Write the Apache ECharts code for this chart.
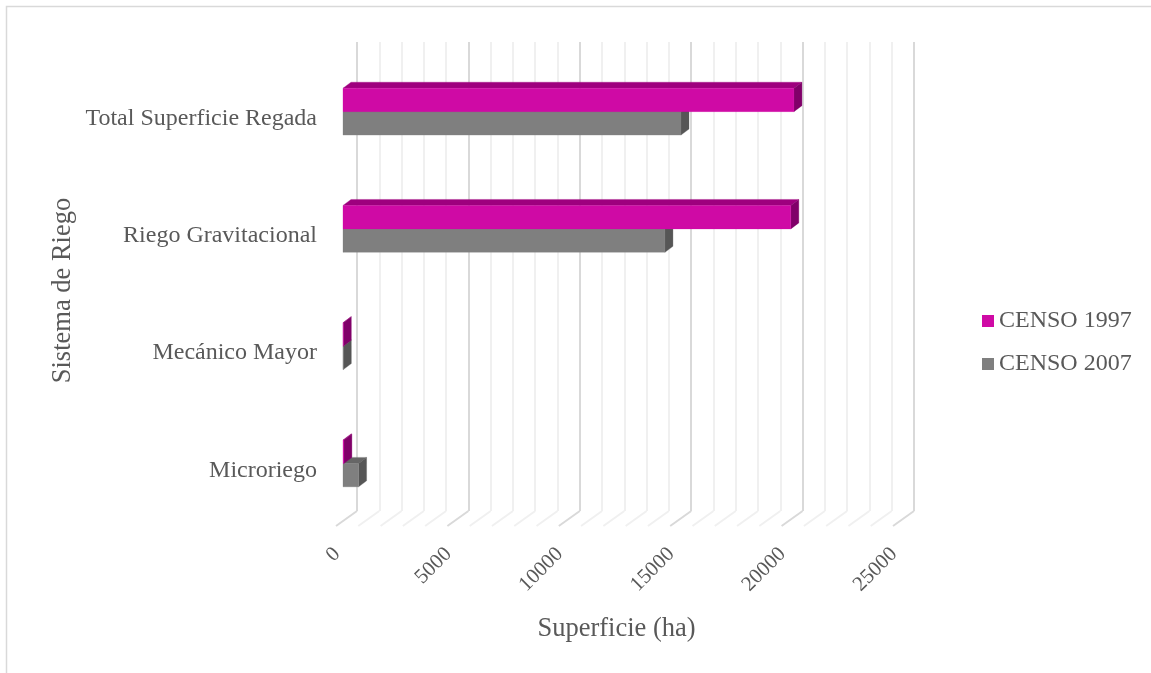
<!DOCTYPE html>
<html>
<head>
<meta charset="utf-8">
<script src="https://cdn.jsdelivr.net/npm/echarts@6/dist/echarts.min.js"></script>
<style>html,body{margin:0;padding:0;background:#fff}#c{width:1151px;height:673px}</style>
</head>
<body>
<div id="c"></div>
<script>
const categories = ['Microriego', 'Mecánico Mayor', 'Riego Gravitacional', 'Total Superficie Regada'];
const censo1997 = [40, 15, 20100, 20240];
const censo2007 = [700, 15, 14450, 15170];
const floorTicks = [0,1000,2000,3000,4000,5000,6000,7000,8000,9000,10000,11000,12000,13000,14000,15000,16000,17000,18000,19000,20000,21000,22000,23000,24000,25000];
const FONT = '"Liberation Serif","Times New Roman",serif';
const TXT = '#595959';
const DX = 8, DY = 6, FX = 21, FY = 15;

function prism(colors, sign) {
  return function (params, api) {
    const idx = api.value(0), val = api.value(1);
    const s = api.coord([0, idx]);
    const e = api.coord([val, idx]);
    const band = api.size([0, 1])[1];
    const h = band * 0.2;
    const y0 = sign < 0 ? s[1] - h : s[1];
    const y1 = y0 + h;
    const x0 = s[0], x1 = e[0];
    const poly = (pts, fill) => ({type: 'polygon', shape: {points: pts}, style: {fill: fill, stroke: fill, lineWidth: 0.3}});
    return {type: 'group', children: [
      poly([[x0,y0],[x0+DX,y0-DY],[x1+DX,y0-DY],[x1,y0]], colors[1]),
      poly([[x1,y0],[x1+DX,y0-DY],[x1+DX,y1-DY],[x1,y1]], colors[2]),
      poly([[x0,y0],[x1,y0],[x1,y1],[x0,y1]], colors[0])
    ]};
  };
}
function floorLine(params, api) {
  const v = api.value(0);
  const p = api.coord([v, 0]);
  const band = api.size([0, 1])[1];
  const y = p[1] + band / 2;
  const major = v % 5000 === 0;
  return {type: 'line', shape: {x1: p[0], y1: y, x2: p[0] - FX, y2: y + FY},
    style: {stroke: major ? '#d9d9d9' : '#f0f0f0', lineWidth: 2}};
}

const chart = echarts.init(document.getElementById('c'), null, {renderer: 'canvas'});
chart.setOption({
  animation: false,
  backgroundColor: '#ffffff',
  graphic: [{type: 'rect', silent: true, z: -1, shape: {x: 6.5, y: 6.5, width: 1300, height: 800},
    style: {fill: 'none', stroke: '#d9d9d9', lineWidth: 1.5}}],
  legend: {
    left: 982, top: 309, padding: 0, orient: 'vertical', itemWidth: 12, itemHeight: 12, itemGap: 19,
    icon: 'rect', data: ['CENSO 1997', 'CENSO 2007'],
    textStyle: {fontFamily: FONT, fontSize: 24, color: TXT}
  },
  grid: [
    {left: 357, width: 557, top: 42, height: 469},
    {left: 343, width: 557, top: 53, height: 469},
    {left: 337, width: 557, top: 60, height: 469}
  ],
  xAxis: [
    {gridIndex: 0, type: 'value', min: 0, max: 25000, interval: 5000,
      axisLine: {show: false}, axisTick: {show: false}, axisLabel: {show: false},
      splitLine: {show: true, lineStyle: {color: '#d9d9d9', width: 2}},
      minorTick: {show: false, splitNumber: 5},
      minorSplitLine: {show: true, lineStyle: {color: '#f0f0f0', width: 2}}},
    {gridIndex: 1, type: 'value', min: 0, max: 25000, interval: 5000,
      axisLine: {show: false}, axisTick: {show: false}, axisLabel: {show: false}, splitLine: {show: false}},
    {gridIndex: 2, type: 'value', min: 0, max: 25000, interval: 5000,
      axisLine: {show: false}, axisTick: {show: false}, splitLine: {show: false},
      axisLabel: {rotate: 45, margin: 22, fontFamily: FONT, fontSize: 21, color: TXT, hideOverlap: false,
        formatter: v => String(v)},
      name: 'Superficie (ha)', nameLocation: 'middle', nameGap: 87,
      nameTextStyle: {fontFamily: FONT, fontSize: 26.5, color: TXT, padding: [0, 0, 0, 2]}}
  ],
  yAxis: [
    {gridIndex: 0, type: 'category', data: categories, axisLine: {show: false}, axisTick: {show: false},
      axisLabel: {show: false}, splitLine: {show: false}},
    {gridIndex: 1, type: 'category', data: categories, axisLine: {show: false}, axisTick: {show: false},
      axisLabel: {show: false}, splitLine: {show: false}},
    {gridIndex: 2, type: 'category', data: categories, axisLine: {show: false}, axisTick: {show: false},
      splitLine: {show: false},
      axisLabel: {margin: 20, fontFamily: FONT, fontSize: 24, color: TXT},
      name: 'Sistema de Riego', nameLocation: 'middle', nameGap: 260, nameRotate: 90,
      nameTextStyle: {fontFamily: FONT, fontSize: 26.5, color: TXT, padding: [0, 0, 0, 8]}}
  ],
  series: [
    {type: 'custom', name: 'piso', xAxisIndex: 0, yAxisIndex: 0, silent: true, z: 1,
      data: floorTicks.map(v => [v, 0]), encode: {x: 0, y: 1}, renderItem: floorLine},
    {type: 'custom', name: 'CENSO 2007', xAxisIndex: 1, yAxisIndex: 1, z: 3,
      itemStyle: {color: '#7f7f7f'},
      data: censo2007.map((v, i) => [i, v]), encode: {x: 1, y: 0},
      renderItem: prism(['#7f7f7f', '#666666', '#565656'], 1)},
    {type: 'custom', name: 'CENSO 1997', xAxisIndex: 1, yAxisIndex: 1, z: 4,
      itemStyle: {color: '#cf0aa5'},
      data: censo1997.map((v, i) => [i, v]), encode: {x: 1, y: 0},
      renderItem: prism(['#cf0aa5', '#9e007e', '#800069'], -1)}
  ]
});
</script>
</body>
</html>
